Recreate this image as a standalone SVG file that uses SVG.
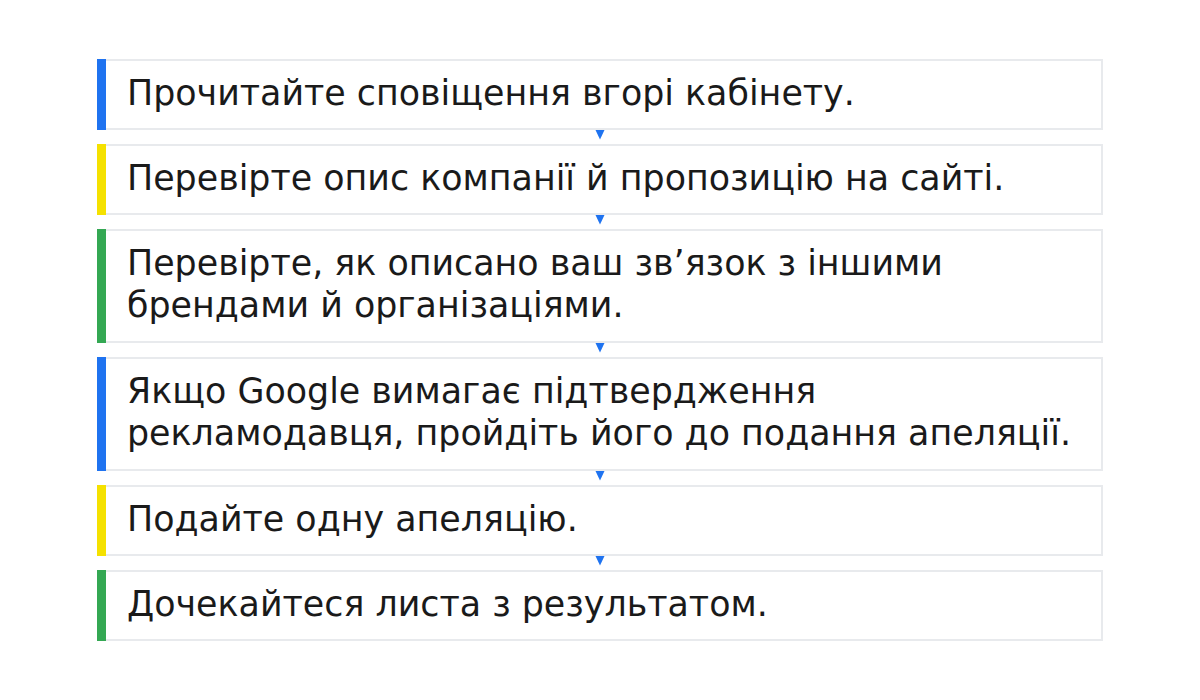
<svg xmlns="http://www.w3.org/2000/svg" width="1200" height="700" viewBox="0 0 1200 700">
<defs>
<style>
.box{fill:#ffffff;stroke:#e8eaed;stroke-width:2}
.t{font-family:"DejaVu Sans",sans-serif;font-size:34.85px;fill:#1a1a1a}
.blue{fill:#1f73f0}
.yellow{fill:#f5e100}
.green{fill:#34a853}
.arr{fill:#1f73f0}
</style>
</defs>
<rect width="1200" height="700" fill="#ffffff"/>
<g id="connectors">
<polygon class="arr" points="595.5,130 604.5,130 600,139.5"/>
<polygon class="arr" points="595.5,215 604.5,215 600,224.5"/>
<polygon class="arr" points="595.5,343 604.5,343 600,352.5"/>
<polygon class="arr" points="595.5,471 604.5,471 600,480.5"/>
<polygon class="arr" points="595.5,556 604.5,556 600,565.5"/>
</g>
<g id="step1">
<rect class="box" x="105" y="60" width="997" height="69"/>
<rect class="blue" x="97" y="59" width="9" height="71"/>
<text class="t" x="127" y="105">Прочитайте сповіщення вгорі кабінету.</text>
</g>
<g id="step2">
<rect class="box" x="105" y="145" width="997" height="69"/>
<rect class="yellow" x="97" y="144" width="9" height="71"/>
<text class="t" x="127" y="190">Перевірте опис компанії й пропозицію на сайті.</text>
</g>
<g id="step3">
<rect class="box" x="105" y="230" width="997" height="112"/>
<rect class="green" x="97" y="229" width="9" height="114"/>
<text class="t" x="127" y="275">Перевірте, як описано ваш зв’язок з іншими</text>
<text class="t" x="127" y="317">брендами й організаціями.</text>
</g>
<g id="step4">
<rect class="box" x="105" y="358" width="997" height="112"/>
<rect class="blue" x="97" y="357" width="9" height="114"/>
<text class="t" x="127" y="403">Якщо Google вимагає підтвердження</text>
<text class="t" x="127" y="445">рекламодавця, пройдіть його до подання апеляції.</text>
</g>
<g id="step5">
<rect class="box" x="105" y="486" width="997" height="69"/>
<rect class="yellow" x="97" y="485" width="9" height="71"/>
<text class="t" x="127" y="531">Подайте одну апеляцію.</text>
</g>
<g id="step6">
<rect class="box" x="105" y="571" width="997" height="69"/>
<rect class="green" x="97" y="570" width="9" height="71"/>
<text class="t" x="127" y="616">Дочекайтеся листа з результатом.</text>
</g>
</svg>
